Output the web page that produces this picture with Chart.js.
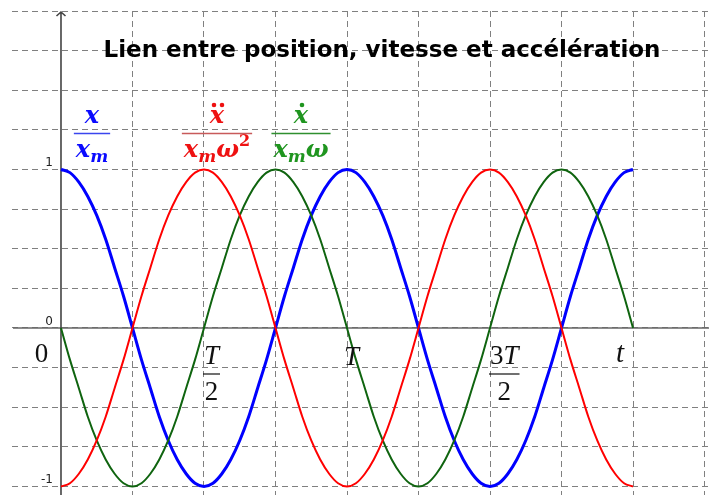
<!DOCTYPE html>
<html>
<head>
<meta charset="utf-8">
<script src="https://cdn.jsdelivr.net/npm/chart.js@4/dist/chart.umd.min.js"></script>
<style>
  html, body { margin: 0; padding: 0; background: #fff; }
</style>
</head>
<body>
<canvas id="graphe" width="709" height="495"></canvas>
<script>
// temps en unités de la période T
const tValues = [0,
  0.03125, 0.0625, 0.09375, 0.125, 0.15625, 0.1875, 0.21875, 0.25,
  0.28125, 0.3125, 0.34375, 0.375, 0.40625, 0.4375, 0.46875, 0.5,
  0.53125, 0.5625, 0.59375, 0.625, 0.65625, 0.6875, 0.71875, 0.75,
  0.78125, 0.8125, 0.84375, 0.875, 0.90625, 0.9375, 0.96875, 1,
  1.03125, 1.0625, 1.09375, 1.125, 1.15625, 1.1875, 1.21875, 1.25,
  1.28125, 1.3125, 1.34375, 1.375, 1.40625, 1.4375, 1.46875, 1.5,
  1.53125, 1.5625, 1.59375, 1.625, 1.65625, 1.6875, 1.71875, 1.75,
  1.78125, 1.8125, 1.84375, 1.875, 1.90625, 1.9375, 1.96875, 2];

// x / xm
const position = [1,
  0.98, 0.92, 0.83, 0.71, 0.56, 0.38, 0.2, 0,
  -0.2, -0.38, -0.56, -0.71, -0.83, -0.92, -0.98, -1,
  -0.98, -0.92, -0.83, -0.71, -0.56, -0.38, -0.2, 0,
  0.2, 0.38, 0.56, 0.71, 0.83, 0.92, 0.98, 1,
  0.98, 0.92, 0.83, 0.71, 0.56, 0.38, 0.2, 0,
  -0.2, -0.38, -0.56, -0.71, -0.83, -0.92, -0.98, -1,
  -0.98, -0.92, -0.83, -0.71, -0.56, -0.38, -0.2, 0,
  0.2, 0.38, 0.56, 0.71, 0.83, 0.92, 0.98, 1];

// x' / (xm.w)
const vitesse = [0,
  -0.2, -0.38, -0.56, -0.71, -0.83, -0.92, -0.98, -1,
  -0.98, -0.92, -0.83, -0.71, -0.56, -0.38, -0.2, 0,
  0.2, 0.38, 0.56, 0.71, 0.83, 0.92, 0.98, 1,
  0.98, 0.92, 0.83, 0.71, 0.56, 0.38, 0.2, 0,
  -0.2, -0.38, -0.56, -0.71, -0.83, -0.92, -0.98, -1,
  -0.98, -0.92, -0.83, -0.71, -0.56, -0.38, -0.2, 0,
  0.2, 0.38, 0.56, 0.71, 0.83, 0.92, 0.98, 1,
  0.98, 0.92, 0.83, 0.71, 0.56, 0.38, 0.2, 0];

// x'' / (xm.w²)
const acceleration = [-1,
  -0.98, -0.92, -0.83, -0.71, -0.56, -0.38, -0.2, 0,
  0.2, 0.38, 0.56, 0.71, 0.83, 0.92, 0.98, 1,
  0.98, 0.92, 0.83, 0.71, 0.56, 0.38, 0.2, 0,
  -0.2, -0.38, -0.56, -0.71, -0.83, -0.92, -0.98, -1,
  -0.98, -0.92, -0.83, -0.71, -0.56, -0.38, -0.2, 0,
  0.2, 0.38, 0.56, 0.71, 0.83, 0.92, 0.98, 1,
  0.98, 0.92, 0.83, 0.71, 0.56, 0.38, 0.2, 0,
  -0.2, -0.38, -0.56, -0.71, -0.83, -0.92, -0.98, -1];

// quadrillage
const gridX = [0.25, 0.5, 0.75, 1, 1.25, 1.5, 1.75, 2, 2.25];
const gridY = [-1, -0.75, -0.5, -0.25, 0, 0.25, 0.5, 0.75, 1, 1.25, 1.5, 1.75, 2];

const yTickValues = [1, 0, -1];
const yTickLabels = ["1", "0", "-1"];
const xTickValues = [0, 0.5, 1, 1.5, 2];
const xTickLabels = ["0", "T/2", "T", "3T/2", "t"];

const titre = "Lien entre position, vitesse et accélération";

const toPoints = ys => tValues.map((t, i) => ({ x: t, y: ys[i] }));

const MATH = '"Liberation Serif", serif';
const LEG = '"DejaVu Serif", serif';

// écrit une suite de morceaux [texte, taille, décalage vertical, style]
function runsWidth(ctx, runs, fam = MATH) {
  let w = 0;
  runs.forEach(r => { ctx.font = `${r[3]} ${r[1]}px ${fam}`; w += ctx.measureText(r[0]).width; });
  return w;
}
function drawRuns(ctx, runs, x, y, fam = MATH) {
  ctx.textAlign = "left";
  ctx.textBaseline = "alphabetic";
  runs.forEach(r => {
    ctx.font = `${r[3]} ${r[1]}px ${fam}`;
    ctx.fillText(r[0], x, y + r[2]);
    x += ctx.measureText(r[0]).width;
  });
}

function drawFraction(ctx, cx, num, den, dots, color, barColor) {
  const wn = runsWidth(ctx, num, LEG), wd = runsWidth(ctx, den, LEG);
  const w = Math.max(wn, wd) + 4;
  ctx.fillStyle = color;
  drawRuns(ctx, num, cx - wn / 2, 123, LEG);
  drawRuns(ctx, den, cx - wd / 2, 157, LEG);
  // points de dérivation au-dessus du x
  ctx.beginPath();
  if (dots === 1) ctx.arc(cx + 1, 105, 2.3, 0, Math.PI * 2);
  if (dots === 2) {
    ctx.arc(cx - 3, 105, 2.3, 0, Math.PI * 2);
    ctx.moveTo(cx + 7.3, 105);
    ctx.arc(cx + 5, 105, 2.3, 0, Math.PI * 2);
  }
  ctx.fill();
  ctx.strokeStyle = barColor;
  ctx.lineWidth = 1.6;
  ctx.beginPath();
  ctx.moveTo(cx - w / 2, 133.5);
  ctx.lineTo(cx + w / 2, 133.5);
  ctx.stroke();
}

const decor = {
  id: "decor",
  beforeDatasetsDraw(chart) {
    const { ctx, chartArea: a, scales: { x, y } } = chart;
    const x0 = x.getPixelForValue(0), y0 = y.getPixelForValue(0);
    ctx.save();
    // axe des temps
    ctx.strokeStyle = "#666";
    ctx.lineWidth = 1.6;
    ctx.beginPath();
    ctx.moveTo(a.left + 1, y0);
    ctx.lineTo(a.right, y0);
    ctx.stroke();
    // axe vertical avec flèche
    ctx.strokeStyle = "#444";
    ctx.beginPath();
    ctx.moveTo(x0, a.bottom);
    ctx.lineTo(x0, a.top + 1);
    ctx.moveTo(x0 - 4.5, a.top + 5);
    ctx.lineTo(x0, a.top + 1);
    ctx.lineTo(x0 + 4.5, a.top + 5);
    ctx.stroke();
    ctx.restore();
  },
  afterDatasetsDraw(chart) {
    const { ctx, scales: { x, y } } = chart;
    const x0 = x.getPixelForValue(0);
    ctx.save();

    // graduations verticales
    ctx.fillStyle = "#222";
    ctx.font = '12px "DejaVu Sans"';
    ctx.textAlign = "right";
    ctx.textBaseline = "alphabetic";
    yTickValues.forEach((v, i) => {
      ctx.fillText(yTickLabels[i], x0 - 8, y.getPixelForValue(v) - 3);
    });

    // graduations du temps
    ctx.fillStyle = "#111";
    xTickValues.forEach((v, i) => {
      const lbl = xTickLabels[i];
      const px = x.getPixelForValue(v);
      if (lbl === "0") {
        ctx.font = `27px ${MATH}`;
        ctx.textAlign = "center";
        ctx.fillText(lbl, px - 19.5, 362);
      } else if (lbl === "t") {
        ctx.font = `italic 29px ${MATH}`;
        ctx.textAlign = "center";
        ctx.fillText(lbl, px - 13, 362);
      } else if (lbl.includes("/")) {
        const [n, d] = lbl.split("/");
        const num = n.length > 1 ? [[n[0], 27, 0, ""], [n.slice(1), 27, 0, "italic"]] : [[n, 27, 0, "italic"]];
        const wn = runsWidth(ctx, num);
        const cx = px - 1 + (wn + 2) / 2;
        drawRuns(ctx, num, cx - wn / 2, 364);
        ctx.font = `27px ${MATH}`;
        ctx.textAlign = "center";
        ctx.fillText(d, cx, 400);
        ctx.strokeStyle = "#111";
        ctx.lineWidth = 1.2;
        ctx.beginPath();
        ctx.moveTo(cx - wn / 2 - 1, 374);
        ctx.lineTo(cx + wn / 2 + 1, 374);
        ctx.stroke();
      } else {
        drawRuns(ctx, [[lbl, 27, 0, "italic"]], px - 3, 365);
      }
    });

    // titre
    ctx.fillStyle = "#000";
    ctx.font = 'bold 23px "DejaVu Sans"';
    ctx.textAlign = "center";
    ctx.fillText(titre, 382, 57);

    // légendes des trois courbes
    const B = "bold italic";
    drawFraction(ctx, 92, [["x", 24, 0, B]], [["x", 24, 0, B], ["m", 17, 5, B]], 0, "#0a0aff", "#3a46ee");
    drawFraction(ctx, 217, [["x", 24, 0, B]],
      [["x", 24, 0, B], ["m", 17, 5, B], ["ω", 24, 0, B], ["2", 16, -11, "bold"]], 2, "#ee1111", "#c85a5a");
    drawFraction(ctx, 301, [["x", 24, 0, B]],
      [["x", 24, 0, B], ["m", 17, 5, B], ["ω", 24, 0, B]], 1, "#1f951f", "#2f8f2f");

    ctx.restore();
  }
};

const courbe = (data, color, width) => ({
  data: toPoints(data),
  borderColor: color,
  borderWidth: width,
  pointRadius: 0,
  fill: false,
  cubicInterpolationMode: "monotone"
});

const gridOpts = list => ({
  type: "linear",
  afterBuildTicks: axis => { axis.ticks = list.map(v => ({ value: v })); },
  ticks: { display: false },
  border: { display: false, dash: [6, 4] },
  grid: { color: "#808080", lineWidth: 1, drawTicks: false }
});

new Chart(document.getElementById("graphe"), {
  type: "line",
  data: {
    datasets: [
      courbe(acceleration, "#ff0000", 2),
      courbe(vitesse, "#0f640f", 2),
      courbe(position, "#0000ff", 3)
    ]
  },
  options: {
    responsive: false,
    animation: false,
    devicePixelRatio: 1,
    layout: { padding: { left: 12, top: 11, right: 0, bottom: 0 } },
    plugins: { legend: { display: false }, tooltip: { enabled: false }, title: { display: false } },
    scales: {
      x: Object.assign(gridOpts(gridX), { min: -0.1713, max: 2.2657 }),
      y: Object.assign(gridOpts(gridY), { min: -1.054, max: 2.0 })
    }
  },
  plugins: [decor]
});
</script>
</body>
</html>
